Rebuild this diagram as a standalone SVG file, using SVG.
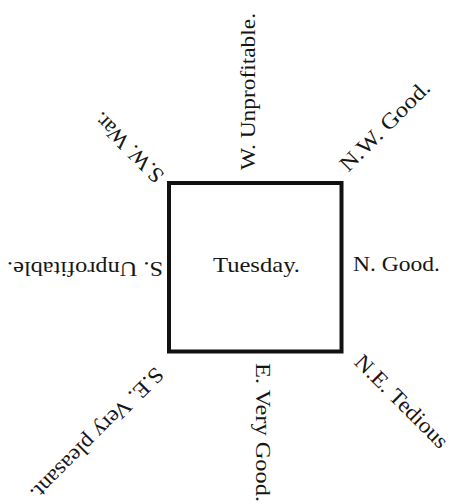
<svg xmlns="http://www.w3.org/2000/svg" width="451" height="504" viewBox="0 0 451 504">
<style>
text{font-family:"Liberation Serif","Times New Roman",serif;font-size:22px;fill:#161616;}
.m{text-anchor:middle;}
.box{fill:none;stroke:#111;stroke-width:4;}
</style>
<rect width="451" height="504" fill="#fff"/>
<g id="tuesday">
<rect class="box" x="169" y="183" width="172.5" height="168.5"/>
<text x="213" y="272" textLength="87" lengthAdjust="spacingAndGlyphs">Tuesday.</text>
</g>
<g id="label-n"><text x="353" y="271" textLength="87" lengthAdjust="spacingAndGlyphs">N. Good.</text></g>
<g id="label-s"><text class="m" x="85" y="262" textLength="156" lengthAdjust="spacingAndGlyphs" transform="rotate(180 85 262)">S. Unprofitable.</text></g>
<g id="label-w"><text class="m" x="254.5" y="91.5" textLength="157" lengthAdjust="spacingAndGlyphs" transform="rotate(-90 254.5 91.5)">W. Unprofitable.</text></g>
<g id="label-e"><text class="m" x="255.5" y="432.5" textLength="139" lengthAdjust="spacingAndGlyphs" transform="rotate(90 255.5 432.5)">E. Very Good.</text></g>
<g id="label-nw"><text class="m" x="390" y="131" textLength="118" lengthAdjust="spacingAndGlyphs" transform="rotate(-45 390 131)">N.W. Good.</text></g>
<g id="label-ne"><text class="m" x="396.5" y="406.5" textLength="122" lengthAdjust="spacingAndGlyphs" transform="rotate(45 396.5 406.5)">N.E. Tedious</text></g>
<g id="label-se"><text class="m" x="92" y="429" textLength="178" lengthAdjust="spacingAndGlyphs" transform="rotate(135 92 429)">S.E. Very pleasant.</text></g>
<g id="label-sw"><text class="m" x="133.5" y="142.5" textLength="90" lengthAdjust="spacingAndGlyphs" transform="rotate(-135 133.5 142.5)">S.W. War.</text></g>
</svg>
